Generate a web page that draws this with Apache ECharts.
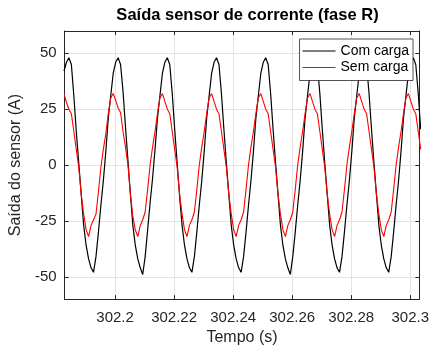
<!DOCTYPE html>
<html>
<head>
<meta charset="utf-8">
<script src="https://cdn.jsdelivr.net/npm/echarts@6/dist/echarts.min.js"></script>
<style>
  html, body { margin: 0; padding: 0; background: #fff; }
  #chart { width: 432px; height: 351px; }
</style>
</head>
<body>
<div id="chart"></div>
<script>
// sample clock of the acquisition (1200 Hz)
const T0 = 302.1827;
const DT = 1 / 1200;

// Com carga (A)
const comCarga = [
  42, 46, 48, 45, 31, 15, 1, -13, -27, -36, -42, -46, -48, -41, -30, -18, -7, 6, 21, 31,
  41, 46, 48, 45, 33, 17, 2, -13, -27, -36, -42, -46, -49, -41, -29, -17, -6, 7, 21, 31,
  41, 46, 48, 45, 32, 16, 1, -14, -27, -36, -42, -46, -48, -41, -30, -18, -7, 6, 21, 31,
  41, 46, 48, 45, 32, 16, 1, -13, -27, -36, -42, -46, -48, -41, -30, -18, -7, 6, 21, 31,
  41, 46, 48, 45, 32, 16, 1, -13, -27, -36, -42, -46, -49, -41, -30, -18, -7, 6, 21, 31,
  41, 46, 48, 45, 32, 16, 1, -13, -27, -36, -42, -46, -48, -41, -30, -18, -7, 6, 21, 31,
  41, 46, 48, 45, 32, 16, 1, -13, -27, -36, -42, -46, -48, -41, -30, -18, -7, 6, 21, 31,
  41, 46, 48, 45, 32, 16
];

// Sem carga (A)
const semCarga = [
  32, 28, 25, 23, 15, 7, -1, -13, -22, -29, -32, -27, -24.5, -22, -12, -1, 7, 14, 23, 30,
  32, 29, 25.5, 23.5, 15, 8, 0, -13, -23, -29, -32, -27, -24.5, -21, -11, 0, 8, 15, 23, 30,
  32, 28.5, 25, 23, 15, 7, -1, -13, -22, -29, -32, -27, -24.5, -21, -11, 0, 8, 15, 23, 30,
  32, 28.5, 25, 23, 15, 7, -1, -13, -22, -29, -32, -27, -24.5, -21, -11, 0, 8, 15, 23, 30,
  32, 28.5, 25, 23, 15, 7, -1, -13, -22, -29, -32, -27, -24.5, -21, -11, 0, 8, 15, 23, 30,
  32, 28.5, 25, 23, 15, 7, -1, -13, -22, -29, -32, -27, -24.5, -21, -11, 0, 8, 15, 23, 30,
  32, 28.5, 25, 23, 15, 7, -1, -13, -22, -29, -32, -27, -24.5, -21, -11, 0, 8, 15, 23, 30,
  32, 28.5, 25, 23, 15, 7
];

const xTicks = [302.2, 302.22, 302.24, 302.26, 302.28, 302.3];
const yTicks = [-50, -25, 0, 25, 50];

const toPairs = (vals) => vals.map((v, i) => [T0 + i * DT, v]);

const chart = echarts.init(document.getElementById("chart"));

const axisColor = "#262626";
const gridColor = "#e3e3e3";
const font = "'Liberation Sans', Arial, Helvetica, sans-serif";

const option = {
  animation: false,
  backgroundColor: "#fff",
  title: {
    text: "Saída sensor de corrente (fase R)",
    left: 242.5,
    textAlign: "center",
    top: 2,
    textStyle: { fontFamily: font, fontSize: 16.5, fontWeight: "bold", color: "#000" },
  },
  legend: {
    orient: "vertical",
    right: 19,
    top: 39,
    padding: [5, 4, 6, 3],
    itemGap: 2.5,
    itemWidth: 33,
    itemHeight: 1,
    backgroundColor: "#fff",
    borderColor: axisColor,
    borderWidth: 0.8,
    borderRadius: 0,
    textStyle: { fontFamily: font, fontSize: 14, color: "#000" },
    data: [
      { name: "Com carga", icon: "rect" },
      { name: "Sem carga", icon: "rect" },
    ],
  },
  grid: { left: 63, right: 10, top: 31, bottom: 47 },
  xAxis: [
    {
      type: "value",
      min: 302.1829,
      max: 302.3031,
      name: "Tempo (s)",
      nameLocation: "middle",
      nameGap: 28,
      nameTextStyle: { fontFamily: font, fontSize: 16, color: axisColor },
      axisLine: { show: true, onZero: false, lineStyle: { color: axisColor, width: 1 } },
      axisTick: { show: true, inside: true, length: 4, customValues: xTicks, lineStyle: { color: axisColor } },
      axisLabel: {
        customValues: xTicks,
        margin: 11,
        fontFamily: font,
        fontSize: 15,
        color: axisColor,
        formatter: (v) => String(+v.toFixed(2)),
      },
      splitLine: { show: true, lineStyle: { color: gridColor, width: 1 } },
    },
    {
      type: "value",
      position: "top",
      min: 302.1829,
      max: 302.3031,
      axisLine: { show: true, onZero: false, lineStyle: { color: axisColor, width: 1 } },
      axisTick: { show: true, inside: true, length: 4, customValues: xTicks, lineStyle: { color: axisColor } },
      axisLabel: { show: false },
      splitLine: { show: false },
    },
  ],
  yAxis: [
    {
      type: "value",
      min: -60,
      max: 60,
      name: "Saída do sensor (A)",
      nameLocation: "middle",
      nameGap: 34,
      nameTextStyle: { fontFamily: font, fontSize: 16, color: axisColor },
      axisLine: { show: true, onZero: false, lineStyle: { color: axisColor, width: 1 } },
      axisTick: { show: true, inside: true, length: 4, customValues: yTicks, lineStyle: { color: axisColor } },
      axisLabel: { customValues: yTicks, margin: 8, fontFamily: font, fontSize: 15, color: axisColor },
      splitLine: { show: true, lineStyle: { color: gridColor, width: 1 } },
    },
    {
      type: "value",
      position: "right",
      min: -60,
      max: 60,
      axisLine: { show: true, onZero: false, lineStyle: { color: axisColor, width: 1 } },
      axisTick: { show: true, inside: true, length: 4, customValues: yTicks, lineStyle: { color: axisColor } },
      axisLabel: { show: false },
      splitLine: { show: false },
    },
  ],
  series: [
    {
      name: "Com carga",
      type: "line",
      xAxisIndex: 0,
      yAxisIndex: 0,
      showSymbol: false,
      symbol: "none",
      color: "#000000",
      lineStyle: { color: "#000000", width: 1.2 },
      data: toPairs(comCarga),
    },
    {
      name: "Sem carga",
      type: "line",
      xAxisIndex: 0,
      yAxisIndex: 0,
      showSymbol: false,
      symbol: "none",
      color: "#ff0000",
      lineStyle: { color: "#ff0000", width: 1.1 },
      data: toPairs(semCarga),
    },
  ],
};

chart.setOption(option);
</script>
</body>
</html>
